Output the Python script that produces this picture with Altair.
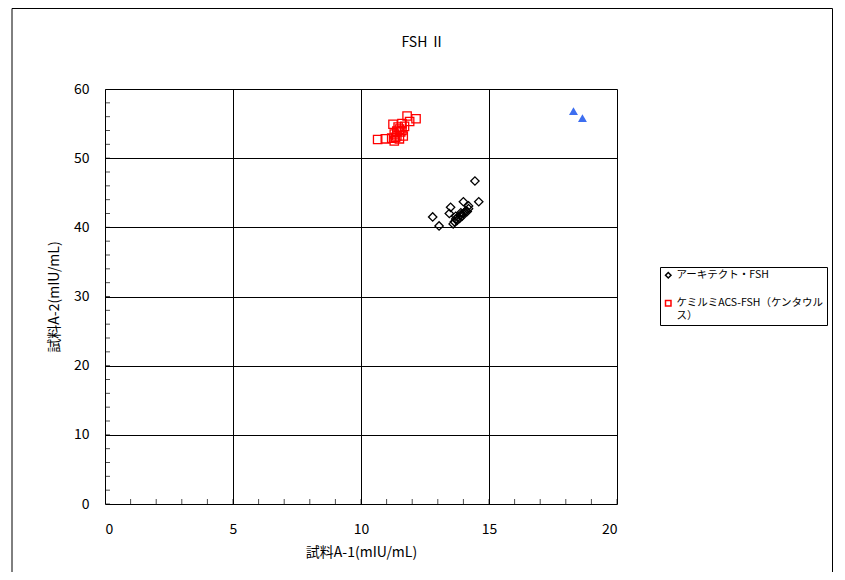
import altair as alt
import pandas as pd

FONT = "Noto Sans CJK JP"

series_names = ["アーキテクト・FSH", "ケミルミACS-FSH（ケンタウルス）"]

arch_x = [12.8, 13.05, 13.5, 13.45, 14.45, 14.6, 14.0, 13.6, 13.65, 13.7, 13.75, 13.8,
          13.85, 13.9, 13.95, 14.0, 14.05, 14.1, 14.15, 14.2, 13.7, 13.9, 14.2]
arch_y = [41.5, 40.2, 42.9, 42.0, 46.7, 43.7, 43.7, 40.5, 40.8, 41.2, 41.0, 41.5,
          41.3, 41.8, 41.6, 42.0, 42.2, 42.4, 42.3, 42.7, 41.6, 42.1, 43.1]

chem_x = [10.65, 10.95, 11.25, 11.8, 12.15, 11.9, 11.6, 11.3, 11.65, 11.3, 11.4, 11.5,
          11.35, 11.45, 11.55, 11.7, 11.2, 11.5, 11.6, 11.4]
chem_y = [52.7, 52.8, 54.9, 56.1, 55.7, 55.3, 55.0, 52.5, 53.2, 53.5, 53.9, 54.2,
          53.0, 54.5, 53.8, 54.6, 52.9, 52.8, 54.0, 53.2]

other_x = [18.3, 18.65]
other_y = [56.8, 55.8]

x_ticks = [0, 5, 10, 15, 20]
y_ticks = [0, 10, 20, 30, 40, 50, 60]
x_minor = list(range(0, 21))
y_minor = list(range(0, 61, 2))

df = pd.DataFrame({
    "x": arch_x + chem_x,
    "y": arch_y + chem_y,
    "series": [series_names[0]] * len(arch_x) + [series_names[1]] * len(chem_x),
})
df_other = pd.DataFrame({"x": other_x, "y": other_y})
df_xm = pd.DataFrame({"v": x_minor})
df_ym = pd.DataFrame({"v": y_minor})
df_frame = pd.DataFrame({"a": [0]})

xscale = alt.Scale(domain=[0, 20], nice=False, zero=False)
yscale = alt.Scale(domain=[0, 60], nice=False, zero=False)

xaxis = alt.Axis(values=x_ticks, title="試料A-1(mIU/mL)", grid=True, gridColor="black",
                 gridOpacity=1, gridWidth=1, domain=False, ticks=False, labelPadding=18,
                 labelFontSize=14, titleFontSize=14, titleFontWeight="normal",
                 titlePadding=9, labelColor="black", titleColor="black",
                 labelFont=FONT, titleFont=FONT)
yaxis = alt.Axis(values=y_ticks, title="試料A-2(mIU/mL)", grid=True, gridColor="black",
                 gridOpacity=1, gridWidth=1, domain=False, ticks=False, labelPadding=16,
                 labelFontSize=14, titleFontSize=14, titleFontWeight="normal",
                 titlePadding=12, labelColor="black", titleColor="black",
                 labelFont=FONT, titleFont=FONT)

legend = alt.Legend(
    title=None, orient="none", legendX=555, legendY=178,
    strokeColor="black", padding=3, labelFontSize=10.5, labelFont=FONT,
    labelColor="black", symbolSize=30, symbolStrokeWidth=1.5, rowPadding=16,
    labelOffset=3, labelLimit=200,
    labelExpr="datum.label == 'ケミルミACS-FSH（ケンタウルス）' ? ['ケミルミACS-FSH（ケンタウル', 'ス）'] : datum.label",
)

points = alt.Chart(df).mark_point(filled=False, size=70, strokeWidth=1.3, opacity=1).encode(
    x=alt.X("x:Q", scale=xscale, axis=xaxis),
    y=alt.Y("y:Q", scale=yscale, axis=yaxis),
    color=alt.Color("series:N", scale=alt.Scale(domain=series_names, range=["black", "red"]),
                    legend=legend),
    shape=alt.Shape("series:N", scale=alt.Scale(domain=series_names, range=["diamond", "square"]),
                    legend=legend),
)

others = alt.Chart(df_other).mark_point(shape="triangle-up", filled=True, size=80,
                                         color="#3d6ef0", opacity=1).encode(
    x=alt.X("x:Q", scale=xscale),
    y=alt.Y("y:Q", scale=yscale),
)

xm = alt.Chart(df_xm).mark_tick(orient="vertical", size=10, thickness=1, color="black",
                                clip=True).encode(
    x=alt.X("v:Q", scale=xscale),
    y=alt.datum(0),
)
ym = alt.Chart(df_ym).mark_tick(orient="horizontal", size=10, thickness=1, color="black",
                                clip=True).encode(
    y=alt.Y("v:Q", scale=yscale),
    x=alt.datum(0),
)

frame = alt.Chart(df_frame).mark_rect(fillOpacity=0, stroke="black", strokeWidth=1,
                                      clip=False).encode(
    x=alt.value(-93), x2=alt.value(727.5), y=alt.value(-80.5), y2=alt.value(520),
)

chart = alt.layer(frame, xm, ym, points, others).properties(
    width=512, height=415,
    title=alt.TitleParams("FSH Ⅱ", fontSize=14, fontWeight="normal", font=FONT,
                          color="black", anchor="middle", offset=-42, dx=62),
    autosize=alt.AutoSizeParams(type="none"),
    padding={"left": 97, "top": 81, "right": 220, "bottom": 68},
).configure_view(stroke="black", strokeWidth=1.5).configure(background="white")

chart.save("out.html", embed_options={"renderer": "svg", "actions": False})
